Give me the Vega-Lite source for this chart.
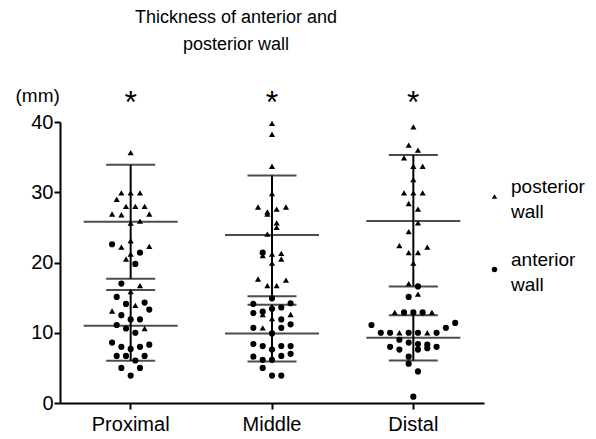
{
  "$schema": "https://vega.github.io/schema/vega-lite/v6.json",
  "autosize": {"type": "none"},
  "padding": {"left": 60, "top": 122, "right": 112, "bottom": 36},
  "width": 424,
  "height": 281,
  "title": {
    "text": ["Thickness of anterior and", "posterior wall"],
    "anchor": "middle",
    "frame": "group",
    "dx": -36,
    "offset": 32,
    "fontSize": 18,
    "fontWeight": "normal",
    "font": "Liberation Sans",
    "color": "black",
    "lineHeight": 27
  },
  "config": {
    "view": {"stroke": null},
    "font": "Liberation Sans",
    "axis": {
      "grid": false,
      "domainColor": "black",
      "domainWidth": 2,
      "tickColor": "black",
      "tickWidth": 2,
      "tickSize": 6,
      "labelColor": "black",
      "labelFontSize": 20,
      "labelFont": "Liberation Sans",
      "titleColor": "black",
      "titleFont": "Liberation Sans",
      "titleFontSize": 19,
      "titleFontWeight": "normal"
    },
    "style": {"guide-label": {"lineHeight": 25}}
  },
  "datasets": {
    "points": [
      {"site": "Proximal", "wall": "posterior wall", "value": 35.65, "col": 0},
      {"site": "Proximal", "wall": "posterior wall", "value": 29.9, "col": -1},
      {"site": "Proximal", "wall": "posterior wall", "value": 29.9, "col": 0},
      {"site": "Proximal", "wall": "posterior wall", "value": 29.9, "col": 1},
      {"site": "Proximal", "wall": "posterior wall", "value": 29.0, "col": -1.5},
      {"site": "Proximal", "wall": "posterior wall", "value": 28.0, "col": -0.5},
      {"site": "Proximal", "wall": "posterior wall", "value": 28.0, "col": 0.5},
      {"site": "Proximal", "wall": "posterior wall", "value": 28.0, "col": 1.5},
      {"site": "Proximal", "wall": "posterior wall", "value": 26.9, "col": -2},
      {"site": "Proximal", "wall": "posterior wall", "value": 26.8, "col": -1},
      {"site": "Proximal", "wall": "posterior wall", "value": 26.9, "col": 2},
      {"site": "Proximal", "wall": "posterior wall", "value": 25.9, "col": 1},
      {"site": "Proximal", "wall": "posterior wall", "value": 25.6, "col": 0},
      {"site": "Proximal", "wall": "posterior wall", "value": 23.1, "col": 0},
      {"site": "Proximal", "wall": "posterior wall", "value": 22.2, "col": -1},
      {"site": "Proximal", "wall": "posterior wall", "value": 22.3, "col": 2},
      {"site": "Proximal", "wall": "posterior wall", "value": 21.2, "col": 0},
      {"site": "Proximal", "wall": "posterior wall", "value": 20.5, "col": -0.5},
      {"site": "Proximal", "wall": "posterior wall", "value": 16.7, "col": 1},
      {"site": "Proximal", "wall": "posterior wall", "value": 15.85, "col": 0},
      {"site": "Proximal", "wall": "posterior wall", "value": 13.9, "col": 0.5},
      {"site": "Proximal", "wall": "posterior wall", "value": 13.1, "col": -2},
      {"site": "Proximal", "wall": "posterior wall", "value": 10.6, "col": 1.5},
      {"site": "Proximal", "wall": "anterior wall", "value": 22.6, "col": -2},
      {"site": "Proximal", "wall": "anterior wall", "value": 21.4, "col": 1},
      {"site": "Proximal", "wall": "anterior wall", "value": 19.8, "col": 0.5},
      {"site": "Proximal", "wall": "anterior wall", "value": 17.0, "col": -1},
      {"site": "Proximal", "wall": "anterior wall", "value": 15.1, "col": -1.5},
      {"site": "Proximal", "wall": "anterior wall", "value": 14.3, "col": 1.5},
      {"site": "Proximal", "wall": "anterior wall", "value": 14.1, "col": -0.5},
      {"site": "Proximal", "wall": "anterior wall", "value": 13.3, "col": 2},
      {"site": "Proximal", "wall": "anterior wall", "value": 12.5, "col": -1},
      {"site": "Proximal", "wall": "anterior wall", "value": 11.9, "col": 0},
      {"site": "Proximal", "wall": "anterior wall", "value": 11.9, "col": 1},
      {"site": "Proximal", "wall": "anterior wall", "value": 11.1, "col": -1.5},
      {"site": "Proximal", "wall": "anterior wall", "value": 10.6, "col": -0.5},
      {"site": "Proximal", "wall": "anterior wall", "value": 10.0, "col": 0.5},
      {"site": "Proximal", "wall": "anterior wall", "value": 8.6, "col": -2},
      {"site": "Proximal", "wall": "anterior wall", "value": 8.0, "col": -1},
      {"site": "Proximal", "wall": "anterior wall", "value": 7.7, "col": 0},
      {"site": "Proximal", "wall": "anterior wall", "value": 8.0, "col": 1},
      {"site": "Proximal", "wall": "anterior wall", "value": 8.3, "col": 2},
      {"site": "Proximal", "wall": "anterior wall", "value": 6.7, "col": -1.5},
      {"site": "Proximal", "wall": "anterior wall", "value": 6.7, "col": -0.5},
      {"site": "Proximal", "wall": "anterior wall", "value": 6.05, "col": 0.5},
      {"site": "Proximal", "wall": "anterior wall", "value": 6.7, "col": 1.5},
      {"site": "Proximal", "wall": "anterior wall", "value": 5.0, "col": -1},
      {"site": "Proximal", "wall": "anterior wall", "value": 5.0, "col": 1},
      {"site": "Proximal", "wall": "anterior wall", "value": 3.9, "col": 0},

      {"site": "Middle", "wall": "posterior wall", "value": 39.8, "col": 0},
      {"site": "Middle", "wall": "posterior wall", "value": 38.25, "col": 0},
      {"site": "Middle", "wall": "posterior wall", "value": 33.7, "col": 0},
      {"site": "Middle", "wall": "posterior wall", "value": 29.8, "col": 0},
      {"site": "Middle", "wall": "posterior wall", "value": 27.9, "col": -1.5},
      {"site": "Middle", "wall": "posterior wall", "value": 27.2, "col": -0.5},
      {"site": "Middle", "wall": "posterior wall", "value": 26.9, "col": -0.5},
      {"site": "Middle", "wall": "posterior wall", "value": 27.6, "col": 0.5},
      {"site": "Middle", "wall": "posterior wall", "value": 27.9, "col": 1.5},
      {"site": "Middle", "wall": "posterior wall", "value": 25.65, "col": 0.5},
      {"site": "Middle", "wall": "posterior wall", "value": 25.0, "col": 0.5},
      {"site": "Middle", "wall": "posterior wall", "value": 24.05, "col": -0.5},
      {"site": "Middle", "wall": "posterior wall", "value": 21.0, "col": -1},
      {"site": "Middle", "wall": "posterior wall", "value": 21.2, "col": 0},
      {"site": "Middle", "wall": "posterior wall", "value": 21.3, "col": 1},
      {"site": "Middle", "wall": "posterior wall", "value": 20.5, "col": 1},
      {"site": "Middle", "wall": "posterior wall", "value": 19.9, "col": 0},
      {"site": "Middle", "wall": "posterior wall", "value": 17.65, "col": -1.5},
      {"site": "Middle", "wall": "posterior wall", "value": 16.7, "col": -0.5},
      {"site": "Middle", "wall": "posterior wall", "value": 16.7, "col": 0.5},
      {"site": "Middle", "wall": "posterior wall", "value": 17.5, "col": 1.5},
      {"site": "Middle", "wall": "posterior wall", "value": 12.6, "col": -1},
      {"site": "Middle", "wall": "posterior wall", "value": 12.6, "col": 2},
      {"site": "Middle", "wall": "posterior wall", "value": 10.7, "col": -1},
      {"site": "Middle", "wall": "posterior wall", "value": 12.0, "col": 0},
      {"site": "Middle", "wall": "anterior wall", "value": 21.4, "col": -1},
      {"site": "Middle", "wall": "anterior wall", "value": 14.9, "col": 0},
      {"site": "Middle", "wall": "anterior wall", "value": 14.1, "col": -2},
      {"site": "Middle", "wall": "anterior wall", "value": 14.2, "col": 2},
      {"site": "Middle", "wall": "anterior wall", "value": 12.8, "col": -2},
      {"site": "Middle", "wall": "anterior wall", "value": 13.0, "col": -1},
      {"site": "Middle", "wall": "anterior wall", "value": 13.4, "col": 0},
      {"site": "Middle", "wall": "anterior wall", "value": 13.6, "col": 1},
      {"site": "Middle", "wall": "anterior wall", "value": 11.9, "col": 1},
      {"site": "Middle", "wall": "anterior wall", "value": 11.2, "col": 2},
      {"site": "Middle", "wall": "anterior wall", "value": 10.7, "col": -2},
      {"site": "Middle", "wall": "anterior wall", "value": 10.7, "col": 1},
      {"site": "Middle", "wall": "anterior wall", "value": 9.9, "col": 0},
      {"site": "Middle", "wall": "anterior wall", "value": 8.4, "col": -2},
      {"site": "Middle", "wall": "anterior wall", "value": 8.1, "col": -1},
      {"site": "Middle", "wall": "anterior wall", "value": 7.6, "col": 0},
      {"site": "Middle", "wall": "anterior wall", "value": 8.1, "col": 1},
      {"site": "Middle", "wall": "anterior wall", "value": 8.1, "col": 2},
      {"site": "Middle", "wall": "anterior wall", "value": 6.6, "col": -2},
      {"site": "Middle", "wall": "anterior wall", "value": 6.15, "col": -1},
      {"site": "Middle", "wall": "anterior wall", "value": 6.15, "col": 0},
      {"site": "Middle", "wall": "anterior wall", "value": 6.7, "col": 1},
      {"site": "Middle", "wall": "anterior wall", "value": 7.0, "col": 2},
      {"site": "Middle", "wall": "anterior wall", "value": 5.0, "col": -1},
      {"site": "Middle", "wall": "anterior wall", "value": 3.9, "col": 0},
      {"site": "Middle", "wall": "anterior wall", "value": 3.9, "col": 1},

      {"site": "Distal", "wall": "posterior wall", "value": 39.3, "col": 0},
      {"site": "Distal", "wall": "posterior wall", "value": 36.7, "col": -0.5},
      {"site": "Distal", "wall": "posterior wall", "value": 36.0, "col": 0.5},
      {"site": "Distal", "wall": "posterior wall", "value": 34.9, "col": -1},
      {"site": "Distal", "wall": "posterior wall", "value": 33.7, "col": 0},
      {"site": "Distal", "wall": "posterior wall", "value": 33.7, "col": 1},
      {"site": "Distal", "wall": "posterior wall", "value": 31.8, "col": 0},
      {"site": "Distal", "wall": "posterior wall", "value": 29.9, "col": -1},
      {"site": "Distal", "wall": "posterior wall", "value": 29.9, "col": 0},
      {"site": "Distal", "wall": "posterior wall", "value": 29.9, "col": 1},
      {"site": "Distal", "wall": "posterior wall", "value": 28.4, "col": -0.5},
      {"site": "Distal", "wall": "posterior wall", "value": 27.6, "col": 0.5},
      {"site": "Distal", "wall": "posterior wall", "value": 25.65, "col": 0.5},
      {"site": "Distal", "wall": "posterior wall", "value": 24.4, "col": -0.5},
      {"site": "Distal", "wall": "posterior wall", "value": 22.4, "col": -1.5},
      {"site": "Distal", "wall": "posterior wall", "value": 22.2, "col": 1.5},
      {"site": "Distal", "wall": "posterior wall", "value": 21.4, "col": -0.5},
      {"site": "Distal", "wall": "posterior wall", "value": 21.4, "col": 0.5},
      {"site": "Distal", "wall": "posterior wall", "value": 19.9, "col": 0},
      {"site": "Distal", "wall": "posterior wall", "value": 17.0, "col": -0.5},
      {"site": "Distal", "wall": "posterior wall", "value": 15.5, "col": 0.5},
      {"site": "Distal", "wall": "posterior wall", "value": 12.9, "col": -2},
      {"site": "Distal", "wall": "posterior wall", "value": 12.9, "col": 2},
      {"site": "Distal", "wall": "posterior wall", "value": 10.0, "col": -1.5},
      {"site": "Distal", "wall": "posterior wall", "value": 10.0, "col": 1.5},
      {"site": "Distal", "wall": "anterior wall", "value": 16.6, "col": 0.5},
      {"site": "Distal", "wall": "anterior wall", "value": 15.1, "col": -0.5},
      {"site": "Distal", "wall": "anterior wall", "value": 12.9, "col": -1},
      {"site": "Distal", "wall": "anterior wall", "value": 12.9, "col": 0},
      {"site": "Distal", "wall": "anterior wall", "value": 12.9, "col": 1},
      {"site": "Distal", "wall": "anterior wall", "value": 11.1, "col": -4.5},
      {"site": "Distal", "wall": "anterior wall", "value": 11.4, "col": 4.5},
      {"site": "Distal", "wall": "anterior wall", "value": 10.7, "col": 3.5},
      {"site": "Distal", "wall": "anterior wall", "value": 10.0, "col": -3.5},
      {"site": "Distal", "wall": "anterior wall", "value": 10.0, "col": -2.5},
      {"site": "Distal", "wall": "anterior wall", "value": 10.0, "col": -0.5},
      {"site": "Distal", "wall": "anterior wall", "value": 10.0, "col": 0.5},
      {"site": "Distal", "wall": "anterior wall", "value": 10.0, "col": 2.5},
      {"site": "Distal", "wall": "anterior wall", "value": 9.0, "col": -1.5},
      {"site": "Distal", "wall": "anterior wall", "value": 8.0, "col": -2.5},
      {"site": "Distal", "wall": "anterior wall", "value": 7.6, "col": -1.5},
      {"site": "Distal", "wall": "anterior wall", "value": 8.6, "col": -0.5},
      {"site": "Distal", "wall": "anterior wall", "value": 8.4, "col": 0.5},
      {"site": "Distal", "wall": "anterior wall", "value": 7.6, "col": 0.5},
      {"site": "Distal", "wall": "anterior wall", "value": 8.3, "col": 1.5},
      {"site": "Distal", "wall": "anterior wall", "value": 7.8, "col": 1.5},
      {"site": "Distal", "wall": "anterior wall", "value": 8.0, "col": 2.5},
      {"site": "Distal", "wall": "anterior wall", "value": 6.6, "col": -0.5},
      {"site": "Distal", "wall": "anterior wall", "value": 5.6, "col": -0.5},
      {"site": "Distal", "wall": "anterior wall", "value": 4.5, "col": 0.5},
      {"site": "Distal", "wall": "anterior wall", "value": 0.9, "col": 0}
    ],
    "stats": [
      {"site": "Proximal", "wall": "posterior wall", "mean": 25.8, "lo": 17.7, "hi": 33.9},
      {"site": "Proximal", "wall": "anterior wall", "mean": 11.0, "lo": 6.0, "hi": 16.1},
      {"site": "Middle", "wall": "posterior wall", "mean": 23.9, "lo": 15.2, "hi": 32.4},
      {"site": "Middle", "wall": "anterior wall", "mean": 9.9, "lo": 5.9, "hi": 14.0},
      {"site": "Distal", "wall": "posterior wall", "mean": 25.9, "lo": 16.6, "hi": 35.3},
      {"site": "Distal", "wall": "anterior wall", "mean": 9.3, "lo": 6.05, "hi": 12.5}
    ],
    "stars": [
      {"site": "Proximal", "label": "*", "value": 41.3},
      {"site": "Middle", "label": "*", "value": 41.3},
      {"site": "Distal", "label": "*", "value": 41.3}
    ]
  },
  "encoding": {
    "x": {
      "field": "site",
      "type": "nominal",
      "sort": ["Proximal", "Middle", "Distal"],
      "scale": {"paddingInner": 0, "paddingOuter": 0},
      "axis": {"title": null, "labelAngle": 0, "labelPadding": 5}
    }
  },
  "layer": [
    {
      "data": {"name": "stats"},
      "mark": {"type": "rule", "color": "black", "strokeWidth": 2},
      "encoding": {
        "y": {"field": "lo", "type": "quantitative", "scale": {"domain": [0, 40]},
          "axis": {"title": "(mm)", "titleAngle": 0, "titleAlign": "left", "titleBaseline": "middle", "titleX": -45, "titleY": -27, "values": [0, 10, 20, 30, 40], "labelPadding": 1}},
        "y2": {"field": "hi"}
      }
    },
    {
      "data": {"name": "stats"},
      "mark": {"type": "tick", "color": "black", "thickness": 2, "size": 94},
      "encoding": {"y": {"field": "mean", "type": "quantitative"}}
    },
    {
      "data": {"name": "stats"},
      "mark": {"type": "tick", "color": "black", "thickness": 2, "size": 49},
      "encoding": {"y": {"field": "lo", "type": "quantitative"}}
    },
    {
      "data": {"name": "stats"},
      "mark": {"type": "tick", "color": "black", "thickness": 2, "size": 49},
      "encoding": {"y": {"field": "hi", "type": "quantitative"}}
    },
    {
      "data": {"name": "points"},
      "mark": {"type": "point", "filled": true, "color": "black", "opacity": 1, "size": 38},
      "encoding": {
        "y": {"field": "value", "type": "quantitative"},
        "xOffset": {"field": "col", "type": "quantitative", "scale": {"domain": [-5, 5], "range": [24.17, 117.17]}},
        "shape": {
          "field": "wall",
          "type": "nominal",
          "scale": {"domain": ["posterior wall", "anterior wall"], "range": ["triangle-up", "circle"]},
          "legend": {
            "title": null,
            "orient": "none",
            "legendX": 425,
            "legendY": 65,
            "labelFontSize": 19,
            "labelColor": "black",
            "labelFont": "Liberation Sans",
            "labelExpr": "split(datum.label, ' ')",
            "labelBaseline": "bottom",
            "rowPadding": 28,
            "symbolSize": 30,
            "symbolFillColor": "black",
            "symbolStrokeColor": "black",
            "labelOffset": 7
          }
        }
      }
    },
    {
      "data": {"name": "stars"},
      "mark": {"type": "text", "fontSize": 32, "color": "black", "baseline": "alphabetic", "font": "Liberation Sans"},
      "encoding": {
        "y": {"field": "value", "type": "quantitative"},
        "text": {"field": "label"}
      }
    }
  ]
}
